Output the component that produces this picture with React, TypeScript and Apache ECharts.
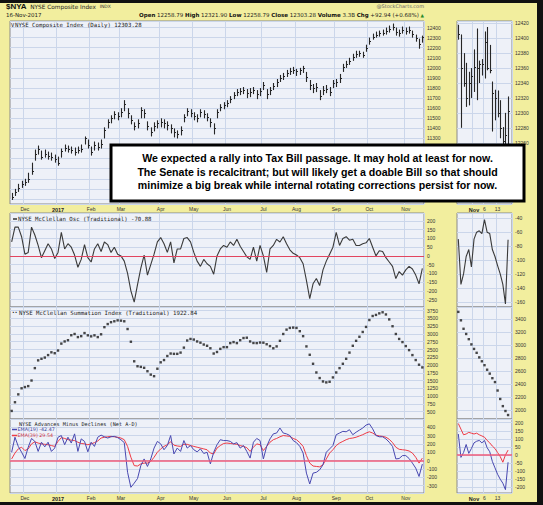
import React, { useEffect, useRef } from "react";
import * as echarts from "echarts";

// ---------------- data ----------------
const monthLabels = ["Dec", "2017", "Feb", "Mar", "Apr", "May", "Jun", "Jul", "Aug", "Sep", "Oct", "Nov"];
const monthIdx = [4, 14, 24, 33, 45, 55, 65, 76, 86, 98, 108, 119];
const rightLabels = ["Nov", "6", "13"];
const rightIdx = [6, 10, 15];
const boldLabelsLeft = ["2017"];
const boldLabelsRight = ["Nov"];

const priceClose = [10720,10770,10810,10850,10870,10900,10980,11150,11200,11120,
11150,11130,11120,11100,11060,11180,11210,11200,11190,11170,
11190,11200,11300,11240,11170,11240,11220,11250,11380,11460,
11500,11540,11520,11560,11640,11550,11480,11420,11450,11580,
11550,11420,11360,11420,11450,11460,11450,11430,11400,11360,
11340,11380,11510,11570,11550,11520,11500,11560,11545,11515,
11460,11400,11560,11610,11630,11650,11690,11730,11760,11770,
11780,11750,11760,11780,11740,11770,11830,11740,11780,11820,
11860,11900,11920,11950,11970,11980,11965,11975,11995,11910,
11830,11800,11810,11720,11780,11795,11765,11850,11860,11900,
12010,12040,12070,12110,12140,12145,12130,12200,12270,12310,
12330,12345,12350,12365,12390,12410,12360,12345,12375,12365,
12380,12340,12300,12240,12303];
const priceLow = [10690,10730,10770,10810,10830,10860,10940,11080,11140,11090,
11110,11090,11080,11060,11030,11110,11170,11160,11150,11130,
11150,11160,11240,11200,11130,11180,11180,11200,11300,11400,
11450,11490,11480,11510,11570,11500,11440,11380,11400,11500,
11500,11380,11320,11370,11400,11410,11400,11380,11350,11310,
11300,11330,11460,11520,11510,11480,11460,11510,11500,11470,
11410,11340,11500,11570,11590,11610,11650,11690,11720,11730,
11740,11700,11710,11740,11690,11720,11780,11690,11730,11780,
11810,11860,11880,11910,11930,11940,11920,11930,11950,11860,
11780,11750,11760,11680,11730,11750,11720,11800,11810,11850,
11960,12000,12030,12070,12100,12110,12100,12160,12230,12280,
12300,12310,12320,12330,12350,12370,12320,12310,12340,12330,
12340,12300,12260,12190,12250];
const priceHigh = [10760,10800,10850,10880,10900,10960,11060,11190,11230,11180,
11190,11170,11160,11140,11120,11200,11240,11230,11220,11210,
11220,11240,11320,11290,11220,11270,11260,11290,11410,11490,
11530,11570,11560,11600,11680,11600,11530,11460,11490,11610,
11590,11470,11410,11460,11480,11500,11490,11470,11440,11400,
11380,11420,11540,11600,11590,11560,11540,11590,11580,11550,
11500,11450,11590,11640,11660,11680,11720,11760,11790,11800,
11810,11790,11800,11810,11780,11800,11860,11790,11810,11850,
11890,11930,11950,11980,12000,12010,11990,12000,12020,11960,
11880,11840,11850,11780,11820,11830,11810,11880,11890,11940,
12040,12070,12100,12140,12170,12170,12160,12230,12300,12340,
12360,12370,12380,12400,12420,12440,12400,12380,12410,12400,
12410,12370,12330,12290,12320];

const osc = [80,165,165,110,10,20,165,120,60,-10,
30,70,40,-15,20,135,40,70,50,5,
-65,-20,65,-10,-35,40,70,25,80,65,
20,50,10,0,-30,-100,-200,-265,-165,-70,
5,-110,-50,10,80,105,70,20,80,-40,
40,40,100,105,80,20,-30,-60,-20,-45,
-60,-105,0,40,60,50,80,60,95,55,
25,-5,-20,50,-30,60,0,-95,40,60,
95,80,110,70,35,15,5,-10,-45,-140,
-245,-160,-130,-170,-80,-30,10,50,135,60,
100,110,90,95,60,60,70,75,100,50,
0,30,25,-10,-35,-60,-130,-90,-110,-80,
-60,-75,-110,-160,-71];

const summation = [520,800,1054,1250,1290,1320,1500,1900,2150,2200,
2240,2320,2410,2380,2467,2690,2760,2800,2960,3000,
2900,2930,3030,2957,2924,2957,2900,2990,3220,3320,
3380,3410,3440,3430,3410,3160,2750,2120,1960,1940,
1910,1800,1690,1640,1880,2087,2160,2290,2370,2360,
2360,2400,2560,2790,2840,2820,2760,2720,2660,2620,
2540,2370,2420,2520,2576,2576,2706,2739,2706,2800,
2870,2880,2760,2710,2706,2725,2720,2670,2610,2540,
2600,2780,3000,3140,3196,3206,3196,3090,2930,2600,
2330,2040,1760,1580,1470,1440,1460,1600,1760,1900,
2040,2200,2400,2620,2780,2910,3065,3228,3450,3580,
3615,3665,3700,3630,3470,3250,3000,2840,2739,2610,
2480,2320,2160,2010,1923];

const ema19 = [100,280,170,100,25,160,265,230,110,220,
165,220,110,150,280,300,190,280,210,320,
110,260,230,105,220,170,280,305,285,270,
285,290,275,250,215,-140,-320,-270,-215,-60,
20,-70,20,150,230,200,130,180,300,80,
150,110,240,150,180,130,105,140,85,100,
-40,100,190,250,240,240,230,200,215,150,
180,110,30,220,265,240,20,170,260,320,
330,390,330,320,300,240,215,170,90,-150,
-280,-150,-140,-110,-50,100,140,180,310,330,
350,345,370,310,340,365,390,425,440,380,
300,285,285,260,220,170,20,25,60,60,
25,-30,-90,-190,-42];

const ema39 = [20,90,140,160,120,140,200,225,210,200,
195,190,180,170,230,275,265,250,245,240,
220,205,200,190,200,215,235,270,280,285,
290,285,280,270,250,170,40,-60,-65,-40,
-30,-30,-10,40,100,140,170,190,225,185,
175,170,195,195,180,170,160,150,140,130,
90,80,150,180,205,210,205,200,195,180,
170,155,110,160,200,190,120,170,220,250,
265,285,300,295,290,265,250,215,170,60,
-30,-65,-70,-75,-50,20,90,130,180,210,
230,250,265,270,280,295,310,330,345,330,
305,295,290,280,255,215,160,135,130,125,
115,90,40,-30,30];

// right-hand (recent) panels, 20 bars in 21 slots
const rLow = [12398,12280,12335,12308,12310,12320,12328,12317,12340,12350,12346,12357,12353,12275,12290,12294,12266,12240,12225,12250];
const rHigh = [12418,12405,12380,12367,12355,12360,12385,12413,12370,12372,12409,12415,12391,12342,12331,12330,12317,12281,12300,12322];
const rClose = [12405,12360,12340,12320,12340,12350,12362,12360,12365,12366,12395,12360,12358,12326,12320,12300,12280,12262,12270,12303];
const rOsc = [-70,-135,-120,-95,-85,-110,-70,-60,-58,-62,-42,-60,-62,-85,-95,-108,-120,-135,-163,-71];
const rSum = [3510,3380,3250,3170,3090,3010,2940,2880,2810,2750,2690,2620,2560,2490,2430,2300,2170,2060,1985,1923];
const rEma19 = [130,-15,15,65,10,40,75,85,90,75,90,45,20,-40,-80,-120,-150,-175,-215,-45];
const rEma39 = [195,160,125,130,140,135,130,135,125,118,110,90,75,55,40,15,-10,-45,0,30];
const RIGHT_SLOTS = 21;

const boxLines = [
  "We expected a rally into Tax Bill passage. It may hold at least for now.",
  "The Senate is recalcitrant; but will likely get a doable Bill so that should",
  "minimize a big break while internal rotating corrections persist for now.",
];

// ---------------- styling ----------------
const YELLOW = "#f2ee9e";
const PANEL = "#eef1f8";
const GRIDC = "#cbd6ea";
const BORDER = "#8a8a8a";
const AX_FONT = "Liberation Sans, Arial, sans-serif";
const MONO = "DejaVu Sans Mono, monospace";
const HDR = "DejaVu Sans, Verdana, sans-serif";

const rows = [
  { top: 21, height: 183 },
  { top: 213, height: 94 },
  { top: 307, height: 112 },
  { top: 419, height: 74 },
];
const LEFT = { left: 10, width: 414 };
const RIGHT = { left: 457, width: 55 };

// y ranges: [min, max, step]; labels below "floor" sit under the note box
const yMain = [[10650, 12465, 100], [-293, 246, 50], [260, 3870, 250], [-388, 498, 100]];
const yRight = [[12178, 12423, 20], [-167.5, -32.5, 20], [1862, 3585, 200], [-235.8, 222.9, 50]];
const labelFloorMain = [11300, -Infinity, -Infinity, -Infinity];
const labelFloorRight = [12260, -Infinity, -Infinity, -Infinity];

function renderOHLC(params: any, api: any) {
  const i = api.value(0);
  const lo = api.coord([i, api.value(1)]);
  const hi = api.coord([i, api.value(2)]);
  const cl = api.coord([i, api.value(3)]);
  const x = Math.round(lo[0]) + 0.5;
  const cy = Math.round(cl[1]) + 0.5;
  return {
    type: "group",
    children: [
      { type: "line", shape: { x1: x, y1: lo[1], x2: x, y2: hi[1] }, style: { stroke: "#262626", lineWidth: 1.1 } },
      { type: "line", shape: { x1: x, y1: cy, x2: x + 1.5, y2: cy }, style: { stroke: "#262626", lineWidth: 1 } },
    ],
  };
}

function xAx(g: number, cats: string[], idx: number[], labels: string[], bold: string[], showLabel: boolean) {
  return {
    type: "category",
    gridIndex: g,
    data: cats,
    boundaryGap: true,
    axisLine: { show: false },
    axisTick: { show: false },
    axisLabel: {
      show: showLabel,
      interval: (i: number) => idx.includes(i),
      formatter: (v: string) => {
        const k = idx.indexOf(Number(v));
        if (k < 0) return "";
        const t = labels[k];
        return bold.includes(t) ? `{b|${t}}` : t;
      },
      fontSize: 5,
      fontFamily: AX_FONT,
      color: "#333",
      margin: 2.5,
      rich: { b: { fontWeight: "bold", fontSize: 5.5, fontFamily: AX_FONT, color: "#222" } },
    },
    splitLine: { show: true, interval: (i: number) => idx.includes(i), lineStyle: { color: GRIDC, width: 1 } },
  };
}

function yAx(g: number, r: number[], floor: number) {
  const [min, max, step] = r;
  return {
    type: "value",
    gridIndex: g,
    position: "right",
    min,
    max,
    minInterval: step,
    maxInterval: step,
    splitNumber: Math.round((max - min) / step),
    axisLine: { show: false },
    axisTick: { show: false },
    axisLabel: {
      fontSize: 5,
      fontFamily: AX_FONT,
      color: "#333",
      margin: 3,
      formatter: (v: number) =>
        Math.abs(v / step - Math.round(v / step)) < 1e-6 && v >= floor ? String(v) : "",
    },
    splitLine: { show: true, lineStyle: { color: GRIDC, width: 1 } },
  };
}

const zeroLine = (color: string, width: number) => ({
  silent: true,
  symbol: "none",
  label: { show: false },
  lineStyle: { color, width, type: "solid" },
  data: [{ yAxis: 0 }],
});

function buildOption() {
  const mainCats = priceClose.map((_, i) => String(i));
  const rightCats = Array.from({ length: RIGHT_SLOTS }, (_, i) => String(i));

  const grid = [
    ...rows.map((r) => ({ ...LEFT, ...r, show: true, backgroundColor: PANEL, borderColor: BORDER, borderWidth: 1 })),
    ...rows.map((r) => ({ ...RIGHT, ...r, show: true, backgroundColor: PANEL, borderColor: BORDER, borderWidth: 1 })),
  ];

  const xAxis = [
    xAx(0, mainCats, monthIdx, monthLabels, boldLabelsLeft, true),
    xAx(1, mainCats, monthIdx, monthLabels, boldLabelsLeft, false),
    xAx(2, mainCats, monthIdx, monthLabels, boldLabelsLeft, false),
    xAx(3, mainCats, monthIdx, monthLabels, boldLabelsLeft, true),
    xAx(4, rightCats, rightIdx, rightLabels, boldLabelsRight, true),
    xAx(5, rightCats, rightIdx, rightLabels, boldLabelsRight, false),
    xAx(6, rightCats, rightIdx, rightLabels, boldLabelsRight, false),
    xAx(7, rightCats, rightIdx, rightLabels, boldLabelsRight, true),
  ];
  const yAxis = [
    ...yMain.map((r, g) => yAx(g, r, labelFloorMain[g])),
    ...yRight.map((r, g) => yAx(g + 4, r, labelFloorRight[g])),
  ];

  const series: any[] = [
    {
      type: "custom",
      xAxisIndex: 0,
      yAxisIndex: 0,
      renderItem: renderOHLC,
      encode: { x: 0, y: [1, 2, 3] },
      data: priceClose.map((c, i) => [i, priceLow[i], priceHigh[i], c]),
      silent: true,
    },
    {
      type: "custom",
      xAxisIndex: 4,
      yAxisIndex: 4,
      renderItem: renderOHLC,
      encode: { x: 0, y: [1, 2, 3] },
      data: rClose.map((c, i) => [i, rLow[i], rHigh[i], c]),
      silent: true,
    },
    {
      type: "line",
      xAxisIndex: 1,
      yAxisIndex: 1,
      data: osc,
      showSymbol: false,
      lineStyle: { color: "#3a3a3a", width: 1.1 },
      markLine: zeroLine("#e2455f", 1.2),
    },
    {
      type: "line",
      xAxisIndex: 5,
      yAxisIndex: 5,
      data: rOsc,
      showSymbol: false,
      lineStyle: { color: "#3a3a3a", width: 1.1 },
    },
    {
      type: "scatter",
      xAxisIndex: 2,
      yAxisIndex: 2,
      data: summation.map((v, i) => [i, v]),
      symbol: "rect",
      symbolSize: 2.4,
      itemStyle: { color: "#1a1a1a" },
    },
    {
      type: "scatter",
      xAxisIndex: 6,
      yAxisIndex: 6,
      data: rSum.map((v, i) => [i, v]),
      symbol: "rect",
      symbolSize: 2.4,
      itemStyle: { color: "#1a1a1a" },
    },
    {
      type: "line",
      xAxisIndex: 3,
      yAxisIndex: 3,
      data: ema39,
      showSymbol: false,
      lineStyle: { color: "#ee3b45", width: 1 },
      markLine: zeroLine("#ef5a7a", 1.6),
    },
    {
      type: "line",
      xAxisIndex: 3,
      yAxisIndex: 3,
      data: ema19,
      showSymbol: false,
      lineStyle: { color: "#4848b0", width: 1 },
    },
    {
      type: "line",
      xAxisIndex: 7,
      yAxisIndex: 7,
      data: rEma39,
      showSymbol: false,
      lineStyle: { color: "#ee3b45", width: 1 },
      markLine: zeroLine("#ef5a7a", 1.6),
    },
    {
      type: "line",
      xAxisIndex: 7,
      yAxisIndex: 7,
      data: rEma19,
      showSymbol: false,
      lineStyle: { color: "#4848b0", width: 1 },
    },
  ];

  const txt = (x: number, y: number, text: string, extra: any = {}) => ({
    type: "text",
    x,
    y,
    z: 50,
    style: {
      text,
      fontSize: 6,
      fontFamily: MONO,
      fill: "#222",
      align: "left",
      verticalAlign: "middle",
      textAlign: "left",
      textVerticalAlign: "middle",
      ...extra,
    },
  });

  const graphic: any[] = [
    // dark frame
    { type: "rect", z: 60, shape: { x: 0, y: 0, width: 543, height: 3 }, style: { fill: "#111" } },
    { type: "rect", z: 60, shape: { x: 537, y: 0, width: 6, height: 505 }, style: { fill: "#111" } },
    { type: "rect", z: 60, shape: { x: 0, y: 502, width: 543, height: 3 }, style: { fill: "#111" } },
    // header
    txt(6, 6.5, "{a|$NYA} {b|NYSE Composite Index} {c|INDX}", {
      rich: {
        a: { fontSize: 8, fontWeight: "bold", fontFamily: AX_FONT, fill: "#111" },
        b: { fontSize: 5.8, fontFamily: HDR, fill: "#222" },
        c: { fontSize: 4.5, fontFamily: HDR, fill: "#333" },
      },
    }),
    txt(6, 15, "16-Nov-2017", { fontFamily: HDR, fontSize: 5.5 }),
    txt(
      424,
      15,
      "{k|Open} 12258.79 {k|High} 12321.90 {k|Low} 12258.79 {k|Close} 12303.28 {k|Volume} 3.3B {k|Chg} +92.94 (+0.68%) {u|▲}",
      {
        fontFamily: HDR,
        fontSize: 5.5,
        align: "right",
        textAlign: "right",
        rich: {
          k: { fontWeight: "bold", fontSize: 5.5, fontFamily: HDR, fill: "#111" },
          u: { fontSize: 4.5, fontFamily: HDR, fill: "#2a8a2a" },
        },
      }
    ),
    txt(424, 6, "@StockCharts.com", { fontFamily: HDR, fontSize: 5, fill: "#666", align: "right", textAlign: "right" }),
    // panel titles
    txt(11, 25, "V", { fontSize: 5.5 }),
    txt(15, 25, "NYSE Composite Index (Daily) 12303.28", { fontSize: 5.7 }),
    { type: "line", z: 50, shape: { x1: 13, y1: 219, x2: 17, y2: 219 }, style: { stroke: "#333", lineWidth: 1.5 } },
    txt(18, 219, "NYSE McClellan Osc (Traditional) -70.88", { fontSize: 5.7 }),
    txt(12, 312.5, "••", { fontSize: 4.5 }),
    txt(19, 312.5, "NYSE McClellan Summation Index (Traditional) 1922.84", { fontSize: 5.7 }),
    txt(19, 423.5, "NYSE Advances Minus Declines (Net A-D)", { fontSize: 5.2 }),
    { type: "line", z: 50, shape: { x1: 12, y1: 429.5, x2: 17, y2: 429.5 }, style: { stroke: "#4848b0", lineWidth: 1.5 } },
    txt(17.5, 429.5, "EMA(19) -42.47", { fontSize: 4.8, fontFamily: HDR, fill: "#3a3a9a" }),
    { type: "line", z: 50, shape: { x1: 12, y1: 435.5, x2: 17, y2: 435.5 }, style: { stroke: "#ee3b45", lineWidth: 1.5 } },
    txt(17.5, 435.5, "EMA(39) 29.54", { fontSize: 4.8, fontFamily: HDR, fill: "#d23040" }),
    // annotation box
    {
      type: "group",
      z: 100,
      children: [
        {
          type: "rect",
          z: 100,
          shape: { x: 111, y: 145, width: 413, height: 56 },
          style: { fill: "#ffffff", stroke: "#000000", lineWidth: 3 },
        },
        ...boxLines.map((line, k) => ({
          type: "text",
          z: 101,
          x: 317.5,
          y: 158.3 + k * 13.4,
          style: {
            text: line,
            fontSize: 10.6,
            fontWeight: "bold",
            fontFamily: AX_FONT,
            fill: "#000",
            align: "center",
            verticalAlign: "middle",
            textAlign: "center",
            textVerticalAlign: "middle",
          },
        })),
      ],
    },
  ];

  return {
    animation: false,
    backgroundColor: YELLOW,
    grid,
    xAxis,
    yAxis,
    series,
    graphic,
  };
}

export default function App() {
  const ref = useRef<HTMLDivElement>(null);
  useEffect(() => {
    if (!ref.current) return;
    const chart = echarts.init(ref.current, null, { renderer: "svg" });
    chart.setOption(buildOption() as any);
    return () => chart.dispose();
  }, []);
  return <div ref={ref} style={{ position: "fixed", left: 0, top: 0, width: 543, height: 505 }} />;
}
